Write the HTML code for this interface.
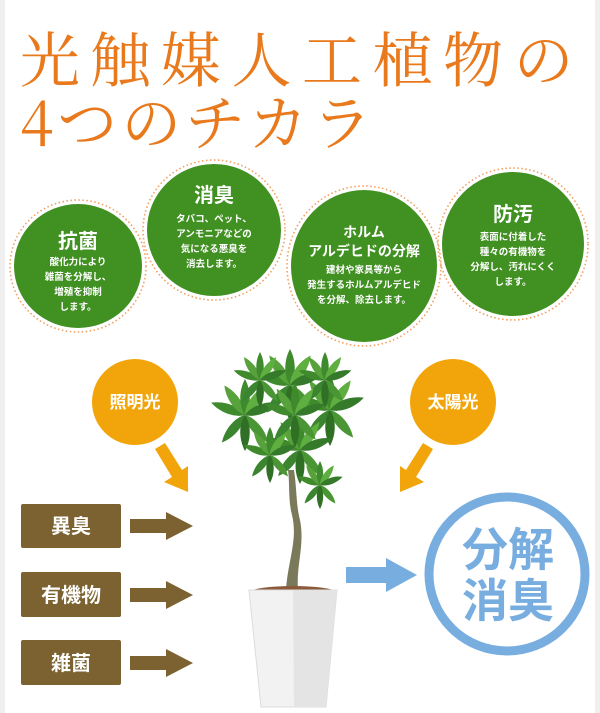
<!DOCTYPE html>
<html><head><meta charset="utf-8"><style>
html,body{margin:0;padding:0;background:#fff;}
svg{display:block}
</style></head><body>
<svg width="600" height="713" viewBox="0 0 600 713" xmlns="http://www.w3.org/2000/svg" font-family="Liberation Sans, Noto Sans CJK JP, sans-serif">
<defs>
<path id="lf" d="M0,0 C6,-8 8,-25 0,-40 C-8,-25 -6,-8 0,0 Z"/>
<g id="cl">
<use href="#lf" transform="rotate(-70)" fill="#3e8a2c"/>
<use href="#lf" transform="rotate(-35)" fill="#57a23a"/>
<use href="#lf" transform="rotate(0)" fill="#3e8a2c"/>
<use href="#lf" transform="rotate(35)" fill="#5fae40"/>
<use href="#lf" transform="rotate(70)" fill="#35792a"/>
<use href="#lf" transform="rotate(140)" fill="#4a9634"/>
<use href="#lf" transform="rotate(-140)" fill="#3b8530"/>
<use href="#lf" transform="rotate(180)" fill="#2f7025"/>
</g>
</defs>
<rect x="0" y="0" width="600" height="713" fill="#fff"/>
<rect x="0" y="0" width="5" height="713" fill="#efefef"/>
<rect x="595" y="0" width="5" height="713" fill="#efefef"/>
<g fill="#e8791c" font-family="Noto Serif CJK JP, Noto Serif CJK SC, serif" font-size="60">
<text x="20" y="82" letter-spacing="10.5">光触媒人工植物の</text>
<text x="20" y="145" letter-spacing="4">4つのチカラ</text>
</g>
<g fill="none" stroke="#f2a060" stroke-width="1.6" stroke-dasharray="1.5 2.5">
<ellipse cx="78" cy="266" rx="68" ry="66"/>
<ellipse cx="214" cy="230" rx="71" ry="70"/>
<ellipse cx="364" cy="266" rx="77" ry="80"/>
<ellipse cx="513" cy="244" rx="75" ry="76"/>
</g>
<g fill="#419022">
<ellipse cx="78" cy="266" rx="64" ry="62"/>
<ellipse cx="214" cy="230" rx="67" ry="66"/>
<ellipse cx="364" cy="266" rx="73" ry="76"/>
<ellipse cx="513" cy="244" rx="71" ry="72"/>
</g>
<g fill="#fff" text-anchor="middle" font-weight="bold">
<text x="78" y="248" font-size="20">抗菌</text>
<text x="78" y="265" font-size="9.5">酸化力により</text>
<text x="78" y="280" font-size="9.5">雑菌を分解し、</text>
<text x="78" y="295" font-size="9.5">増殖を抑制</text>
<text x="78" y="310" font-size="9.5">します。</text>
<text x="214" y="202" font-size="20">消臭</text>
<text x="214" y="222" font-size="9.5">タバコ、ペット、</text>
<text x="214" y="237" font-size="9.5">アンモニアなどの</text>
<text x="214" y="252" font-size="9.5">気になる悪臭を</text>
<text x="214" y="267" font-size="9.5">消去します。</text>
<text x="364" y="237" font-size="14">ホルム</text>
<text x="364" y="256" font-size="14">アルデヒドの分解</text>
<text x="364" y="273" font-size="9.5">建材や家具等から</text>
<text x="364" y="288" font-size="9.5">発生するホルムアルデヒド</text>
<text x="364" y="303" font-size="9.5">を分解、除去します。</text>
<text x="513" y="221" font-size="20">防汚</text>
<text x="513" y="240" font-size="9.5">表面に付着した</text>
<text x="513" y="255" font-size="9.5">種々の有機物を</text>
<text x="513" y="270" font-size="9.5">分解し、汚れにくく</text>
<text x="513" y="285" font-size="9.5">します。</text>
</g>
<g fill="#f2a50a">
<circle cx="135" cy="402" r="43"/>
<circle cx="453" cy="402" r="43"/>
<polygon points="155,449 165,443 182,470 188,466 188,492 164,482 172,477"/>
<polygon points="433,449 423,443 406,470 400,466 400,492 424,482 416,477"/>
</g>
<g fill="#fff" font-weight="bold" font-size="17" text-anchor="middle">
<text x="135" y="408">照明光</text>
<text x="453" y="408">太陽光</text>
</g>
<g fill="#7b6230">
<rect x="21" y="504" width="100" height="44" rx="2"/>
<rect x="21" y="572" width="100" height="45" rx="2"/>
<rect x="21" y="640" width="100" height="45" rx="2"/>
<polygon points="130,519 166,519 166,512 193,526 166,540 166,533 130,533"/>
<polygon points="130,588 166,588 166,581 193,595 166,609 166,602 130,602"/>
<polygon points="130,656 166,656 166,649 193,663 166,677 166,670 130,670"/>
</g>
<g fill="#fff" font-weight="bold" font-size="20" text-anchor="middle">
<text x="71" y="533">異臭</text>
<text x="71" y="602">有機物</text>
<text x="71" y="670">雑菌</text>
</g>
<polygon fill="#78ade0" points="346,567 386,567 386,558 417,575 386,592 386,583 346,583"/>
<ellipse cx="507" cy="574" rx="78" ry="77" fill="none" stroke="#78ade0" stroke-width="9"/>
<g fill="#78ade0" font-weight="bold" font-size="46" text-anchor="middle">
<text x="508" y="566">分解</text>
<text x="508" y="617">消臭</text>
</g>
<!-- plant -->
<path d="M286,590 C288,560 298,540 292,515 C288,500 290,485 288,470 L294,470 C297,490 296,505 300,520 C305,545 296,565 298,590 Z" fill="#7a7a5a"/>
<ellipse cx="293" cy="592" rx="42" ry="6" fill="#8a5a3a"/>
<polygon points="249,590 337,590 326,707 261,707" fill="#f2f2f2" stroke="#dcdcdc"/>
<polygon points="293,590 337,590 326,707 294,707" fill="#e4e4e4"/>
<use href="#cl" transform="translate(245,415) scale(0.9)"/>
<use href="#cl" transform="translate(330,410) scale(0.9)"/>
<use href="#cl" transform="translate(290,385) scale(0.9)"/>
<use href="#cl" transform="translate(260,380) scale(0.7)"/>
<use href="#cl" transform="translate(325,380) scale(0.7)"/>
<use href="#cl" transform="translate(300,450) scale(0.85)"/>
<use href="#cl" transform="translate(270,455) scale(0.7)"/>
<use href="#cl" transform="translate(320,485) scale(0.6)"/>
<use href="#cl" transform="translate(295,415) scale(0.8)"/>
</svg>
</body></html>
